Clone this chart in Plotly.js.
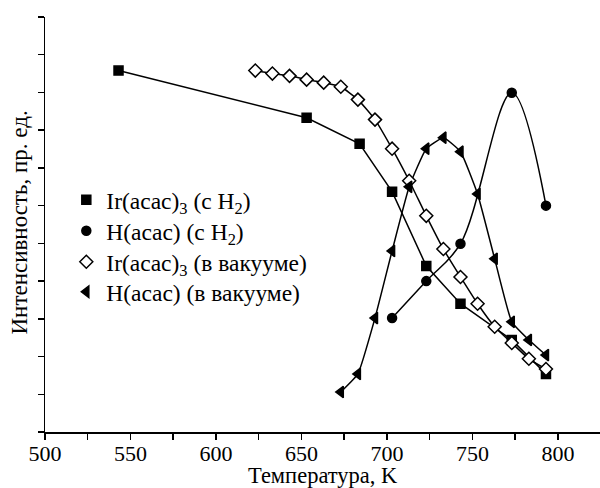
<!DOCTYPE html>
<html>
<head>
<meta charset="utf-8">
<script src="https://cdn.plot.ly/plotly-3.0.1.min.js"></script>
<style>html,body{margin:0;padding:0;background:#fff;}#chart{width:600px;height:488px;}</style>
</head>
<body>
<div id="chart"></div>
<script>
// Ir(acac)3 with H2 (filled squares)
const irH2_T = [543, 653, 684, 703, 723, 743, 773, 793];
const irH2_I = [9.58, 8.33, 7.64, 6.37, 4.40, 3.40, 2.44, 1.54];
// H(acac) with H2 (filled circles)
const hH2_T = [703, 723, 743, 773, 793];
const hH2_I = [3.02, 4.00, 4.99, 8.99, 6.00];
// Ir(acac)3 in vacuum (open diamonds)
const irVac_T = [623, 633, 643, 653, 663, 673, 683, 693, 703, 713, 723, 733, 743, 753, 763, 773, 783, 793];
const irVac_I = [9.58, 9.50, 9.44, 9.34, 9.26, 9.15, 8.81, 8.28, 7.51, 6.66, 5.73, 4.85, 4.11, 3.40, 2.79, 2.36, 1.94, 1.67];
// H(acac) in vacuum (left triangles)
const hVac_T = [673, 683, 693, 703, 713, 723, 733, 743, 753, 763, 773, 783, 793];
const hVac_I = [1.06, 1.54, 3.02, 4.80, 6.50, 7.51, 7.80, 7.43, 6.31, 4.59, 2.92, 2.44, 2.04];

const names = [
  'Ir(acac)<sub>3</sub> (с H<sub>2</sub>)',
  'H(acac) (с H<sub>2</sub>)',
  'Ir(acac)<sub>3</sub> (в вакууме)',
  'H(acac) (в вакууме)'
];
const xTicks = [500,525,550,575,600,625,650,675,700,725,750,775,800];
const xTickText = ['500','','550','','600','','650','','700','','750','','800'];
const yTicks = [0,1,2,3,4,5,6,7,8,9,10,11];

const series = [
  {x: irH2_T, y: irH2_I, shape: 'linear', sm: 0, sym: 'square', size: 9, fill: '#000'},
  {x: hH2_T, y: hH2_I, shape: 'spline', sm: 1.0, sym: 'circle', size: 9, fill: '#000'},
  {x: irVac_T, y: irVac_I, shape: 'spline', sm: 0.5, sym: 'diamond', size: 10, fill: '#fff'},
  {x: hVac_T, y: hVac_I, shape: 'spline', sm: 0.4, sym: 'triangle-left', size: 10, fill: '#000'}
];

const legendIds = ['legend', 'legend2', 'legend3', 'legend4'];
const traces = [];
series.forEach((s) => {
  traces.push({
    x: s.x, y: s.y, mode: 'lines', showlegend: false, hoverinfo: 'skip',
    line: {color: '#000', width: 1.5, shape: s.shape, smoothing: s.sm}
  });
});
series.forEach((s, i) => {
  traces.push({
    x: s.x, y: s.y, mode: 'markers', name: names[i], legend: legendIds[i],
    marker: {symbol: s.sym, size: s.size, color: s.fill, line: {color: '#000', width: 1.5}}
  });
});

const font = 'Liberation Serif, Times New Roman, serif';
// plot area spans 17..432 px vertically (415 px)
const rowPx = [200, 231, 262, 292];
const mkLegend = (py) => ({
  x: 0.0384, y: (432 - py) / 415, xanchor: 'left', yanchor: 'middle',
  bgcolor: 'rgba(0,0,0,0)', font: {family: font, size: 23.5, color: '#000'},
  itemwidth: 30
});

const layout = {
  width: 600, height: 488,
  margin: {l: 45, r: 0, t: 17, b: 56},
  paper_bgcolor: '#fff', plot_bgcolor: '#fff',
  font: {family: font, color: '#000', size: 22},
  showlegend: true,
  legend: mkLegend(rowPx[0]),
  legend2: mkLegend(rowPx[1]),
  legend3: mkLegend(rowPx[2]),
  legend4: mkLegend(rowPx[3]),
  xaxis: {
    range: [500, 824.6], tickmode: 'array', tickvals: xTicks, ticktext: xTickText,
    showline: true, linecolor: '#000', linewidth: 1.5,
    ticks: 'outside', ticklen: 6, tickwidth: 1.5, tickcolor: '#000',
    ticklabelstandoff: -5,
    showgrid: false, zeroline: false,
    tickfont: {family: font, size: 22, color: '#000'}
  },
  yaxis: {
    range: [0, 11], tickmode: 'array', tickvals: yTicks, showticklabels: false,
    showline: true, linecolor: '#000', linewidth: 1.5,
    ticks: 'outside', ticklen: 6, tickwidth: 1.5, tickcolor: '#000',
    showgrid: false, zeroline: false
  },
  annotations: [
    {text: 'Температура, K', xref: 'paper', yref: 'paper', x: 0.5, y: 0, xanchor: 'center', yanchor: 'middle',
     yshift: -43, showarrow: false, font: {family: font, size: 22.5, color: '#000'}},
    {text: 'Интенсивность, пр. ед.', xref: 'paper', yref: 'paper', x: 0, y: 0.5, xanchor: 'center', yanchor: 'middle',
     xshift: -26, yshift: 2, textangle: -90, showarrow: false, font: {family: font, size: 23, color: '#000'}}
  ]
};

Plotly.newPlot('chart', traces, layout, {displayModeBar: false, staticPlot: true});
</script>
</body>
</html>
